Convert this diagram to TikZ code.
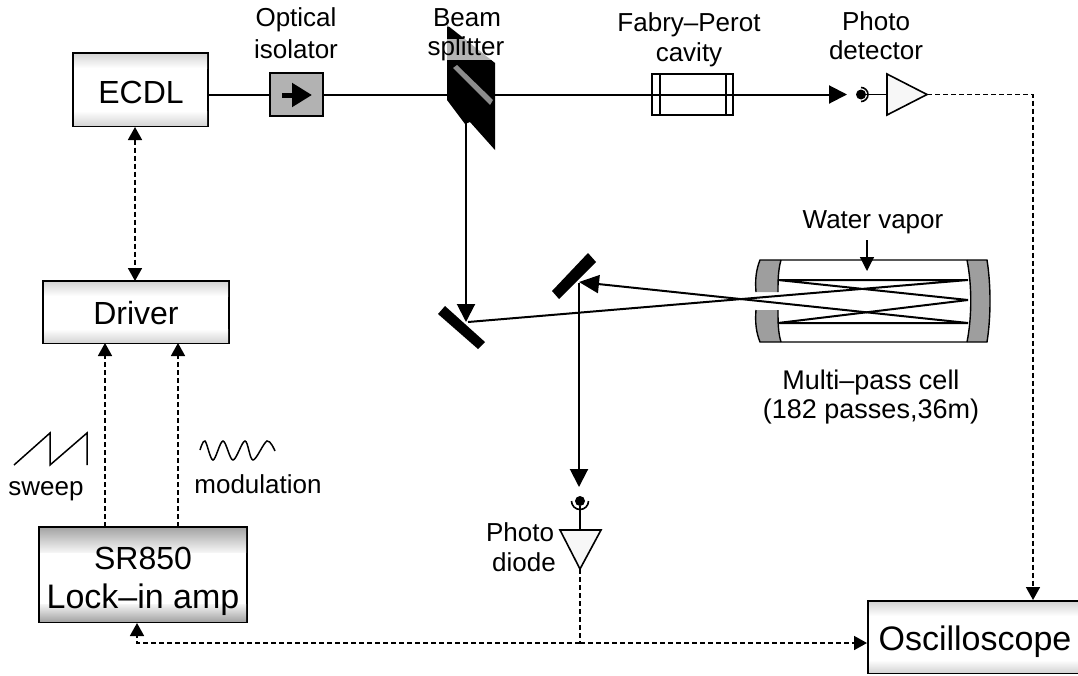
\documentclass[tikz,border=0pt]{standalone}
\usepackage{fontspec}
\setmainfont{Liberation Sans}
\usetikzlibrary{arrows.meta}
\tikzset{
  x=1pt,y=-1pt,
  box/.style={draw=black,line width=2pt,fill=white,inner sep=0pt,align=center},
  bandtop/.style={top color=black!16,bottom color=white,draw=none},
  bandbot/.style={top color=white,bottom color=black!16,draw=none},
  heavytop/.style={top color=black!35,bottom color=black!4,draw=none},
  heavybot/.style={top color=black!4,bottom color=black!35,draw=none},
  beam/.style={line width=2pt,draw=black},
  thin beam/.style={line width=2pt,draw=black},
  sig/.style={line width=1.7pt,draw=black,dash pattern=on 5pt off 3pt},
  bigtip/.style={-{Triangle[length=18pt,width=18pt,black]}},
  onetip/.style={-{Triangle[length=13pt,width=14pt,black]}},
  twotip/.style={{Triangle[length=13pt,width=14pt,black]}-{Triangle[length=13pt,width=14pt,black]}},
  lbl/.style={inner sep=0pt,font=\fontsize{26}{30}\selectfont,align=center},
  amp/.style={draw=black,line width=1.6pt,fill=black!3,line join=miter},
  capfill/.style={fill=black!38,draw=none},
  mirror/.style={fill=black,draw=none}
}
\newcommand{\bigf}[1]{\fontsize{#1}{#1}\selectfont}
\begin{document}
\begin{tikzpicture}
\useasboundingbox (0,0) rectangle (1078,675);
% boxes
\node[box,minimum width=135pt,minimum height=73pt] (ecdl) at (140.5,89.5) {};
\path[bandtop] (74,54) rectangle (207,68);
\path[bandbot] (74,111) rectangle (207,125);
\node[lbl,font=\bigf{32}] (ecdlt) at (141,92) {ECDL};
\node[box,minimum width=186pt,minimum height=62pt] (driver) at (136,312) {};
\path[bandtop] (44,282) rectangle (228,296);
\path[bandbot] (44,329) rectangle (228,342);
\node[lbl,font=\bigf{32}] (drivert) at (136,313) {Driver};
\node[box,minimum width=208pt,minimum height=95pt] (lock) at (143,574.5) {};
\path[heavytop] (40,528) rectangle (246,552);
\path[heavybot] (40,604) rectangle (246,621);
\node[lbl,font=\bigf{32}] (lockt1) at (143,558) {SR850};
\node[lbl,font=\bigf{34}] (lockt2) at (143,600) {Lock–in amp};
\node[box,minimum width=212pt,minimum height=72pt] (osc) at (974,637) {};
\path[bandtop] (869,602) rectangle (1078,616);
\path[bandbot] (869,660) rectangle (1078,672);
\node[lbl,font=\bigf{34}] (osct) at (975,642) {Oscilloscope};
% isolator
\node[draw=black,line width=2pt,fill=black!30,minimum width=53pt,minimum height=43pt,inner sep=0pt] (iso) at (296.5,94.5) {};
% main beam
\coordinate (bsL) at (447,94.5);
\coordinate (bsR) at (495,94.5);
\coordinate (tipF) at (847,94.5);
\coordinate (isoA) at (282,95);
\coordinate (isoB) at (312,95);
\draw[beam] (ecdl.east |- iso) -- (iso.west);
\draw[beam] (iso.east) -- (bsL);
\draw[beam,bigtip] (bsR) -- (tipF);
\draw[-{Triangle[length=20pt,width=23pt,black]},line width=5pt] (isoA) -- (isoB);
% beam splitter
\fill[black] (447,25) -- (495,63) -- (495,150) -- (470,122) -- (465,124) -- (447,100) -- cycle;
\fill[black!45] (453,68) -- (457,65) -- (493,100) -- (490,105) -- cycle;
\coordinate (bsB) at (466,122);
% text labels top
\node[lbl] (t1) at (296,20) {Optical};
\node[lbl] (t2) at (296,49) {isolator};
\node[lbl,fill=white,fill opacity=.55,text opacity=1] (t3) at (467,18) {Beam};
\node[lbl,fill=white,fill opacity=.7,text opacity=1,inner xsep=1pt,text depth=4pt,text height=17pt] (t4) at (466,49) {splitter};
\node[lbl] (t5) at (689,25) {Fabry–Perot};
\node[lbl] (t6) at (689,55) {cavity};
\node[lbl] (t7) at (876,21) {Photo};
\node[lbl] (t8) at (876,50) {detector};
% cavity
\node[draw=black,line width=1.8pt,fill=none,minimum width=81pt,minimum height=41pt,inner sep=0pt] (fp) at (692.5,94.5) {};
\draw[line width=1.3pt] (660,74) -- (660,115) (726,74) -- (726,115);
% photo detector
\node[fill=black,circle,minimum size=10pt,inner sep=0pt] (pd1) at (861,94.5) {};
\draw[line width=1.6pt] (861,87.5) arc (-90:90:7);
\coordinate (pd1t) at (887,94.5);
\draw[line width=1.3pt] (pd1) -- (pd1t);
\draw[amp] (887,74) -- (927,94.5) -- (887,115) -- cycle;
\coordinate (pd1o) at (927,94.5);
\coordinate (corner1) at (1033,94.5);
\draw[sig,onetip] (pd1o) -- (corner1) -- (osc.north -| corner1);
% mirrors
\fill[mirror] (438,314) -- (445,306) -- (485,342) -- (478,349) -- cycle;
\fill[mirror] (552,291) -- (588,253) -- (596,262) -- (559,299) -- cycle;
\coordinate (m1) at (468,322);
\coordinate (m2) at (579,282);
\draw[thin beam,bigtip] (bsB) -- (466,322);
% multipass cell
\fill[capfill] (760,260) -- (781,260) .. controls (778,270) and (778,282) .. (778,292) -- (756,292) .. controls (755,280) and (756,270) .. (760,260) -- cycle;
\fill[capfill] (756,310) -- (778,310) .. controls (778,322) and (778,332) .. (781,342) -- (760,342) .. controls (756,332) and (755,322) .. (756,310) -- cycle;
\fill[capfill] (967,260) -- (987,260) .. controls (991,285) and (991,317) .. (987,342) -- (967,342) .. controls (972,317) and (972,285) .. (967,260) -- cycle;
\draw[line width=1.4pt] (756,292) .. controls (755,280) and (756,270) .. (760,260) -- (987,260) .. controls (991,285) and (991,317) .. (987,342) -- (760,342) .. controls (756,332) and (755,322) .. (756,310);
\draw[line width=1.4pt] (781,260) .. controls (778,270) and (778,282) .. (778,292);
\draw[line width=1.4pt] (778,310) .. controls (778,322) and (778,332) .. (781,342);
\draw[line width=1.4pt] (967,260) .. controls (972,285) and (972,317) .. (967,342);
\coordinate (a) at (968,280);
\coordinate (b) at (778,280);
\coordinate (c) at (968,300);
\coordinate (d) at (778,323);
\coordinate (e) at (968,323);
\draw[thin beam,line join=bevel] (m1) -- (a) -- (b) -- (c) -- (d) -- (e);
\draw[thin beam,-{Triangle[length=20pt,width=18pt,black]}] (e) -- (m2);
\node[lbl] (wvt) at (873,222) {Water vapor};
\coordinate (wv) at (867,240);
\coordinate (wvh) at (867,271);
\draw[line width=1.3pt,-{Triangle[length=14pt,width=14pt,black]}] (wv) -- (wvh);
\node[lbl,font=\bigf{27}] (mp1) at (871,383) {Multi–pass cell};
\node[lbl,font=\bigf{27}] (mp2) at (871,412) {(182 passes,36m)};
% photo diode
\coordinate (m2b) at (579,283);
\coordinate (pd2t) at (579,487);
\draw[thin beam,bigtip] (m2b) -- (pd2t);
\node[fill=black,circle,minimum size=10pt,inner sep=0pt] (pd2) at (580,501) {};
\draw[line width=1.6pt] (571.5,501) arc (180:0:8.5);
\coordinate (ampIn) at (580,530);
\coordinate (ampOut) at (580,569);
\draw[line width=1.3pt] (pd2) -- (ampIn);
\draw[amp] (560,530) -- (601,530) -- (ampOut) -- cycle;
\node[lbl] (pt) at (520,532) {Photo};
\node[lbl] (dt) at (524,562) {diode};
\coordinate (junction) at (580,643);
\draw[sig] (ampOut) -- (junction);
\draw[sig,onetip] (junction) -- (osc.west |- junction);
\draw[sig,onetip] (junction) -- (137,643) -- (137,623);
% ECDL-driver
\coordinate (ed1) at (135,127);
\coordinate (ed2) at (135,281);
\draw[sig,twotip] (ed1) -- (ed2);
\coordinate (s1) at (105,527);
\coordinate (s2) at (105,343);
\coordinate (s3) at (178,527);
\coordinate (s4) at (178,343);
\draw[sig,onetip] (s1) -- (s2);
\draw[sig,onetip] (s3) -- (s4);
% sweep & modulation
\draw[line width=1.5pt] (14,465) -- (50,433) -- (50,465) -- (87,433) -- (87,465);
\draw[line width=1.5pt] plot[smooth,tension=.55] coordinates {(200,450) (205,441) (213,460) (223,441) (233,460) (245,441) (253,460) (267,441) (275,451)};
\node[lbl] (sw) at (46,491) {sweep};
\node[lbl] (mo) at (258,484) {modulation};
\end{tikzpicture}
\end{document}
